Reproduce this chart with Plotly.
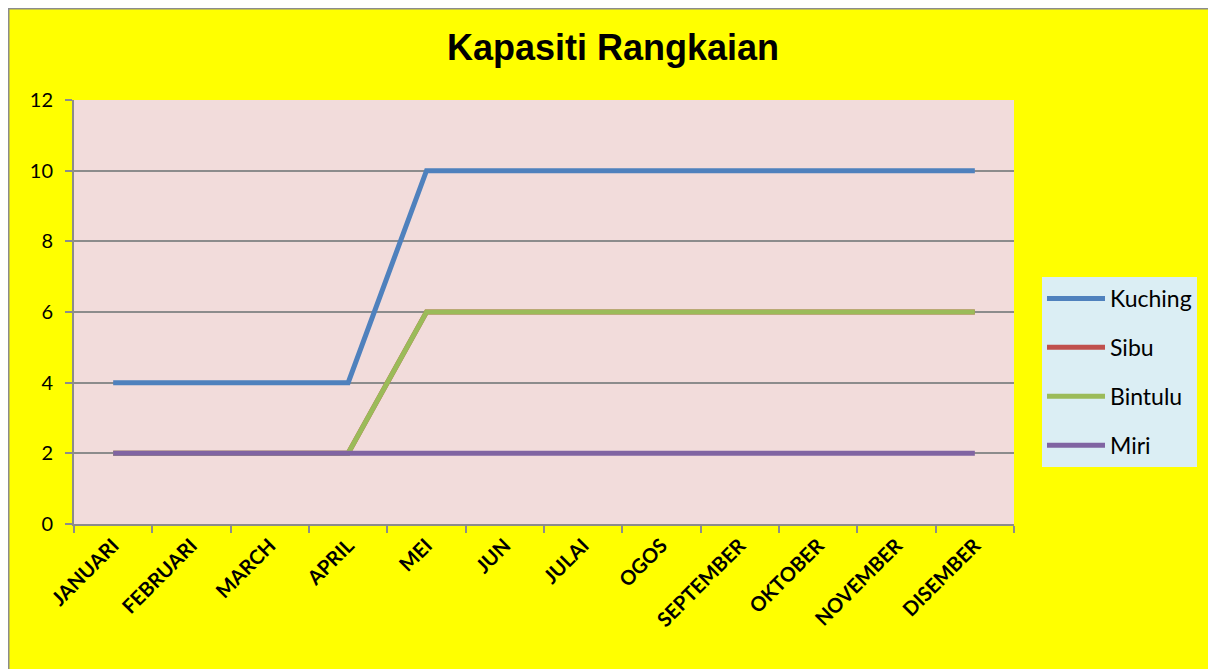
import plotly.graph_objects as go

months = ["JANUARI", "FEBRUARI", "MARCH", "APRIL", "MEI", "JUN", "JULAI", "OGOS",
          "SEPTEMBER", "OKTOBER", "NOVEMBER", "DISEMBER"]
kuching = [4, 4, 4, 4, 10, 10, 10, 10, 10, 10, 10, 10]
sibu = [2, 2, 2, 2, 6, 6, 6, 6, 6, 6, 6, 6]
bintulu = [2, 2, 2, 2, 6, 6, 6, 6, 6, 6, 6, 6]
miri = [2, 2, 2, 2, 2, 2, 2, 2, 2, 2, 2, 2]
y_ticks = [0, 2, 4, 6, 8, 10, 12]

series = [("Kuching", kuching, "#4F81BD"), ("Sibu", sibu, "#C0504D"),
          ("Bintulu", bintulu, "#9BBB59"), ("Miri", miri, "#8064A2")]

# page is offset by the 8px body margin
W, H = 1208, 661
L, R, T, B = 66, 1006, 92, 516

fig = go.Figure()
for name, vals, col in series:
    fig.add_trace(go.Scatter(x=months, y=vals, name=name, mode="lines", legendgroup=name,
                             line=dict(color=col, width=5)))

def px(x):
    return (x - L) / (R - L)

def py(y):
    return (B - y) / (B - T)

font_main = "Lato, Calibri, Carlito, sans-serif"

fig.update_layout(
    width=W, height=H,
    margin=dict(l=L, r=W - R, t=T, b=H - B, autoexpand=False),
    paper_bgcolor="#FFFF00",
    plot_bgcolor="#F2DCDB",
    title=dict(text="<b>Kapasiti Rangkaian</b>", xref="container", x=605 / W, xanchor="center",
               y=1 - 39 / H, yanchor="middle",
               font=dict(family="Liberation Sans, Arial, sans-serif", size=36, color="black")),
    xaxis=dict(type="category", showgrid=False, showline=True, linecolor="#8C8C8C",
               linewidth=2, ticks="outside", tickson="boundaries", ticklen=7,
               tickcolor="#8C8C8C", tickwidth=2, tickangle=-45,
               tickfont=dict(family=font_main, size=20, color="black", weight="bold"),
               range=[-0.5, 11.5]),
    yaxis=dict(range=[0, 12], tickvals=y_ticks, showgrid=True, gridcolor="#8C8C8C",
               gridwidth=2, showline=True, linecolor="#8C8C8C", linewidth=2,
               ticks="outside", ticklen=7, tickcolor="#8C8C8C", tickwidth=2, zeroline=False,
               ticklabelstandoff=8,
               tickfont=dict(family=font_main, size=20, color="black")),
    legend=dict(x=px(1034), y=py(269), xanchor="left", yanchor="top",
                bgcolor="#DBEEF4", borderwidth=0,
                font=dict(family=font_main, size=23, color="black"),
                traceorder="grouped", tracegroupgap=16, itemwidth=58),
    showlegend=True,
    shapes=[
        dict(type="rect", xref="paper", yref="paper", x0=px(0.75), x1=px(1240), y0=py(0.75), y1=py(690),
             fillcolor="rgba(0,0,0,0)", line=dict(color="#8C8C8C", width=1.5), layer="below"),
    ],
)

fig.write_html("out.html")
